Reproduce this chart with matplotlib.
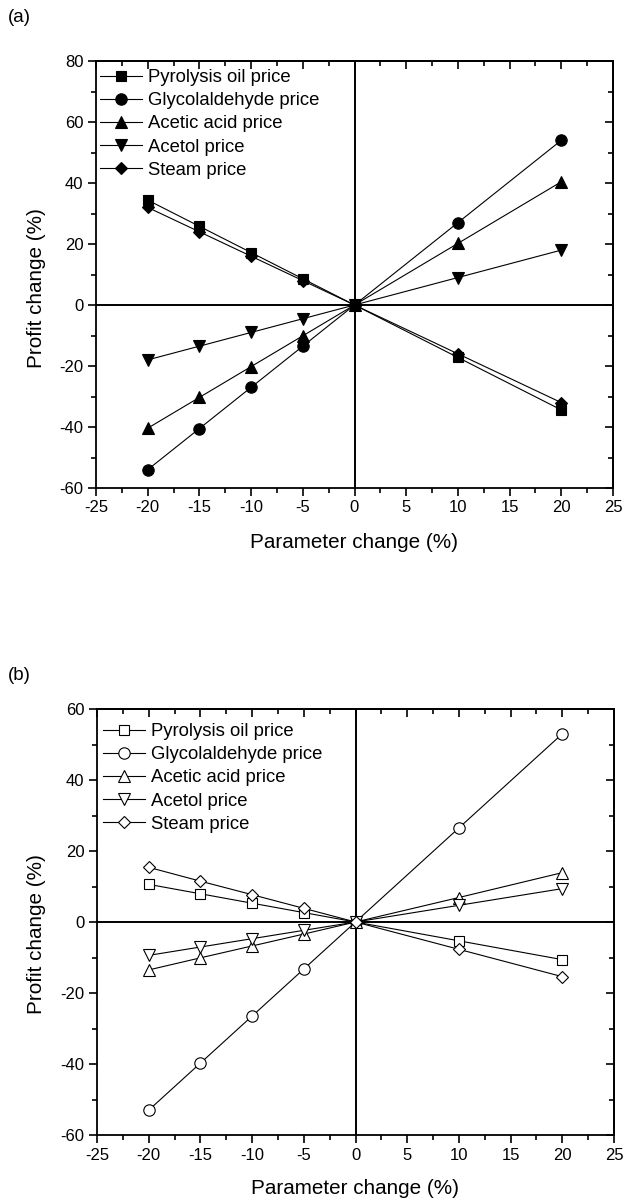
import matplotlib
matplotlib.use("Agg")
import matplotlib.pyplot as plt
from matplotlib.ticker import MultipleLocator

plt.rcParams['font.family'] = ['Liberation Sans', 'DejaVu Sans']
plt.rcParams['axes.unicode_minus'] = False

# Parameter change (%) and the resulting profit change (%)
param_change = [-20, -15, -10, -5, 0, 10, 20]
series_names = ["Pyrolysis oil price", "Glycolaldehyde price", "Acetic acid price",
                "Acetol price", "Steam price"]

# Case (a)
pyrolysis_a = [34.4, 25.8, 17.2, 8.6, 0, -17.2, -34.4]
glycol_a = [-54.0, -40.5, -27.0, -13.5, 0, 27.0, 54.0]
acetic_a = [-40.4, -30.3, -20.2, -10.1, 0, 20.2, 40.4]
acetol_a = [-18.0, -13.5, -9.0, -4.5, 0, 9.0, 18.0]
steam_a = [32.0, 24.0, 16.0, 8.0, 0, -16.0, -32.0]

# Case (b)
pyrolysis_b = [10.6, 7.95, 5.3, 2.65, 0, -5.3, -10.6]
glycol_b = [-53.0, -39.75, -26.5, -13.25, 0, 26.5, 53.0]
acetic_b = [-13.5, -10.1, -6.75, -3.4, 0, 6.9, 13.9]
acetol_b = [-9.4, -7.05, -4.7, -2.35, 0, 4.7, 9.4]
steam_b = [15.4, 11.5, 7.7, 3.85, 0, -7.7, -15.4]

x_ticks = list(range(-25, 30, 5))
y_ticks_a = list(range(-60, 100, 20))
y_ticks_b = list(range(-60, 80, 20))

W, H = 626, 1202
fig = plt.figure(figsize=(W / 100, H / 100), dpi=100)


def px_axes(left, top, right, bottom):
    return fig.add_axes([left / W, 1 - bottom / H, (right - left) / W, (bottom - top) / H])


ax_a = px_axes(96, 61, 613, 488)
ax_b = px_axes(97, 709, 614, 1135)

markers = ['s', 'o', '^', 'v', 'D']
msizes = [7.2, 8.2, 8.7, 8.7, 6.6]


def draw(ax, data, yticks, filled, legend_xy):
    ax.axhline(0, color='black', lw=1.4, zorder=1)
    ax.axvline(0, color='black', lw=1.4, zorder=1)
    for name, vals, m, ms in zip(series_names, data, markers, msizes):
        ax.plot(param_change, vals, color='black', lw=0.8, marker=m, markersize=ms,
                markerfacecolor='black' if filled else 'white',
                markeredgecolor='black', markeredgewidth=0.8, label=name, zorder=3)
    ax.set_xlim(-25, 25)
    ax.set_ylim(yticks[0], yticks[-1])
    ax.set_xticks(x_ticks)
    ax.set_yticks(yticks)
    ax.xaxis.set_minor_locator(MultipleLocator(2.5))
    ax.yaxis.set_minor_locator(MultipleLocator(10))
    for sp in ax.spines.values():
        sp.set_linewidth(1.3)
    ax.tick_params(which='both', direction='out', top=False, right=False,
                   labelsize=12, width=1.2, pad=3)
    ax.tick_params(which='major', length=6)
    ax.tick_params(which='minor', length=3.5)
    # inward ticks on the top and right edges
    sx = ax.secondary_xaxis('top')
    sx.set_xticks(x_ticks)
    sx.xaxis.set_minor_locator(MultipleLocator(2.5))
    sx.tick_params(which='both', direction='in', labeltop=False, width=1.2)
    sx.tick_params(which='major', length=6)
    sx.tick_params(which='minor', length=3.5)
    sx.spines['top'].set_linewidth(1.3)
    sy = ax.secondary_yaxis('right')
    sy.set_yticks(yticks)
    sy.yaxis.set_minor_locator(MultipleLocator(10))
    sy.tick_params(which='both', direction='in', labelright=False, width=1.2)
    sy.tick_params(which='major', length=6)
    sy.tick_params(which='minor', length=3.5)
    sy.spines['right'].set_linewidth(1.3)
    ax.set_xticklabels([str(t) for t in x_ticks])
    ax.set_yticklabels([str(t) for t in yticks])
    ax.legend(loc='upper left', bbox_to_anchor=(legend_xy[0] / W, 1 - legend_xy[1] / H),
              bbox_transform=fig.transFigure, frameon=False, fontsize=13.3,
              handlelength=2.3, handletextpad=0.3, labelspacing=0.335,
              borderpad=0, borderaxespad=0)


draw(ax_a, [pyrolysis_a, glycol_a, acetic_a, acetol_a, steam_a], y_ticks_a, True, (100, 69))
draw(ax_b, [pyrolysis_b, glycol_b, acetic_b, acetol_b, steam_b], y_ticks_b, False, (103, 723))

fs_lab = 14.9
fig.text(354 / W, 1 - 542 / H, "Parameter change (%)", ha='center', va='center', fontsize=fs_lab)
fig.text(355 / W, 1 - 1188 / H, "Parameter change (%)", ha='center', va='center', fontsize=fs_lab)
fig.text(37 / W, 1 - 288 / H, "Profit change (%)", ha='center', va='center',
         rotation=90, fontsize=fs_lab)
fig.text(37 / W, 1 - 934 / H, "Profit change (%)", ha='center', va='center',
         rotation=90, fontsize=fs_lab)
fig.text(8 / W, 1 - 18 / H, "(a)", ha='left', va='center', fontsize=13.5)
fig.text(8 / W, 1 - 676 / H, "(b)", ha='left', va='center', fontsize=13.5)

fig.savefig("out.png", dpi=100)
